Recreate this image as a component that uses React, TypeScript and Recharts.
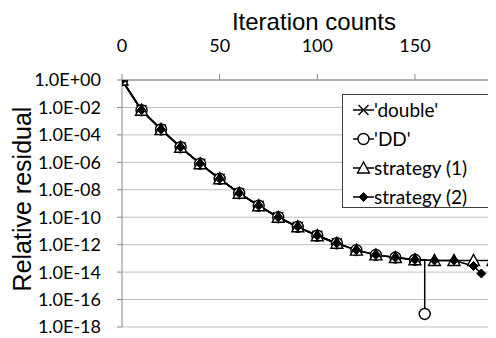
import React from 'react';
import { LineChart, Line, XAxis, YAxis, CartesianGrid, Legend } from 'recharts';

// ---- data ----
const doubleIters = [0, 10, 20, 30, 40, 50, 60, 70, 80, 90, 100, 110];
const doubleValues = [1, 6.3e-3, 2.5e-4, 1.26e-5, 7.9e-7, 6.3e-8, 5.6e-9, 6.9e-10, 1.0e-10, 2.0e-11, 4.5e-12, 1.26e-12];

const ddIters = [0, 10, 20, 30, 40, 50, 60, 70, 80, 90, 100, 110, 120, 130, 140, 150, 155, 155];
const ddValues = [1, 6.3e-3, 2.5e-4, 1.26e-5, 7.9e-7, 6.3e-8, 5.6e-9, 6.9e-10, 1.0e-10, 2.0e-11, 4.5e-12, 1.26e-12, 4.0e-13, 1.8e-13, 1.15e-13, 7.9e-14, 7.9e-14, 8.9e-18];

const s1Iters = [0, 10, 20, 30, 40, 50, 60, 70, 80, 90, 100, 110, 120, 130, 140, 150, 160, 170, 180, 190, 200];
const s1Values = [1, 6.3e-3, 2.5e-4, 1.26e-5, 7.9e-7, 6.3e-8, 5.6e-9, 6.9e-10, 1.0e-10, 2.0e-11, 4.5e-12, 1.26e-12, 4.0e-13, 1.8e-13, 1.15e-13, 7.9e-14, 7.1e-14, 7.1e-14, 7.1e-14, 7.1e-14, 7.1e-14];

const s2Iters = [0, 10, 20, 30, 40, 50, 60, 70, 80, 90, 100, 110, 120, 130, 140, 150, 160, 170, 180, 184];
const s2Values = [1, 6.3e-3, 2.5e-4, 1.26e-5, 7.9e-7, 6.3e-8, 5.6e-9, 6.9e-10, 1.0e-10, 2.0e-11, 4.5e-12, 1.26e-12, 4.0e-13, 1.8e-13, 1.15e-13, 7.9e-14, 7.1e-14, 7.1e-14, 2.8e-14, 7.9e-15];

const seriesNames = ["'double'", "'DD'", 'strategy (1)', 'strategy (2)'];
const xTicks = [0, 50, 100, 150];
const yTicks = [1, 1e-2, 1e-4, 1e-6, 1e-8, 1e-10, 1e-12, 1e-14, 1e-16, 1e-18];
const xTitle = 'Iteration counts';
const yTitle = 'Relative residual';

const toRows = (xs: number[], ys: number[]) => xs.map((x, i) => ({ x, y: ys[i] }));
const doubleData = toRows(doubleIters, doubleValues);
const ddData = toRows(ddIters, ddValues);
const s1Data = toRows(s1Iters, s1Values);
const s2Data = toRows(s2Iters, s2Values);
const ddCornerIndex = ddIters.length - 2;

const fmtY = (v: number) => {
  const e = Math.round(Math.log10(v));
  const sign = e < 0 ? '-' : '+';
  return `1.0E${sign}${String(Math.abs(e)).padStart(2, '0')}`;
};

// ---- markers ----
const Cross = ({ cx, cy }: { cx: number; cy: number }) => (
  <path d={`M${cx - 5},${cy - 5}L${cx + 5},${cy + 5}M${cx - 5},${cy + 5}L${cx + 5},${cy - 5}`} stroke="#000" strokeWidth={1.4} fill="none" />
);
const Circ = ({ cx, cy }: { cx: number; cy: number }) => (
  <circle cx={cx} cy={cy} r={5.5} fill="#fff" stroke="#000" strokeWidth={1.4} />
);
const Tri = ({ cx, cy }: { cx: number; cy: number }) => (
  <polygon points={`${cx},${cy - 6} ${cx - 6},${cy + 5} ${cx + 6},${cy + 5}`} fill="#fff" stroke="#000" strokeWidth={1.4} />
);
const Dia = ({ cx, cy }: { cx: number; cy: number }) => (
  <polygon points={`${cx},${cy - 4.5} ${cx + 4.5},${cy} ${cx},${cy + 4.5} ${cx - 4.5},${cy}`} fill="#000" stroke="#000" strokeWidth={1} />
);
const markerByName: Record<string, any> = {
  [seriesNames[0]]: Cross,
  [seriesNames[1]]: Circ,
  [seriesNames[2]]: Tri,
  [seriesNames[3]]: Dia,
};

const dotFn = (M: any, skip?: number) => (p: any) => {
  if (p.cx == null || p.cy == null || p.index === skip) return <g key={`d${p.index}`} />;
  return <g key={`d${p.index}`}><M cx={p.cx} cy={p.cy} /></g>;
};

const renderLegend = (props: any) => {
  const payload = [...(props.payload || [])].sort(
    (a: any, b: any) => seriesNames.indexOf(a.value) - seriesNames.indexOf(b.value)
  );
  return (
    <div style={{ width: 147, height: 114, border: '1px solid #404040', background: '#fff', boxSizing: 'border-box', paddingTop: 0 }}>
      {payload.map((item: any) => {
        const M = markerByName[item.value];
        return (
          <div key={item.value} style={{ display: 'flex', alignItems: 'center', height: 29, paddingLeft: 10 }}>
            <svg width={21} height={16} style={{ overflow: 'visible' }}>
              <line x1={0} y1={8} x2={21} y2={8} stroke="#000" strokeWidth={1.5} />
              {M ? <M cx={10.5} cy={8} /> : null}
            </svg>
            <span style={{ fontFamily: 'Lato', fontSize: 19, color: '#000', lineHeight: '29px' }}>{item.value}</span>
          </div>
        );
      })}
    </div>
  );
};

export default function App() {
  return (
    <div style={{ position: 'relative', width: 488, height: 330 }}>
      <LineChart width={488} height={330} margin={{ top: 0, right: 0, bottom: 11, left: 0 }}>
        <CartesianGrid vertical={false} stroke="#bfbfbf" strokeWidth={1} />
        <XAxis
          type="number"
          dataKey="x"
          orientation="top"
          height={72}
          domain={[0, 191.5]}
          ticks={xTicks}
          interval={0}
          allowDataOverflow
          stroke="#868686"
          tickSize={6}
          tickMargin={22}
          tick={{ fontFamily: 'Lato', fontSize: 18, fill: '#000' }}
          label={{
            content: () => (
              <text x={306} y={22} textAnchor="middle" fontFamily="'Liberation Sans', Arial" fontSize={24} fill="#000">
                {xTitle}
              </text>
            ),
          }}
        />
        <YAxis
          type="number"
          scale="log"
          dataKey="y"
          domain={[1e-18, 1]}
          ticks={yTicks}
          interval={0}
          allowDataOverflow
          width={114}
          stroke="#868686"
          tickSize={5}
          tickMargin={16}
          tickFormatter={fmtY}
          tick={{ fontFamily: 'Lato', fontSize: 18, fill: '#000' }}
          label={{
            content: () => (
              <text
                x={23}
                y={191}
                textAnchor="middle"
                fontFamily="'Liberation Sans', Arial"
                fontSize={25}
                fill="#000"
                transform={`rotate(-90 23 191)`}
              >
                {yTitle}
              </text>
            ),
          }}
        />
        <Line data={doubleData} dataKey="y" name={seriesNames[0]} stroke="#000" strokeWidth={1.8} dot={dotFn(Cross)} activeDot={false} isAnimationActive={false} />
        <Line data={ddData} dataKey="y" name={seriesNames[1]} stroke="#000" strokeWidth={1.5} dot={dotFn(Circ, ddCornerIndex)} activeDot={false} isAnimationActive={false} />
        <Line data={s1Data} dataKey="y" name={seriesNames[2]} stroke="#000" strokeWidth={1.5} dot={dotFn(Tri)} activeDot={false} isAnimationActive={false} />
        <Line data={s2Data} dataKey="y" name={seriesNames[3]} stroke="#000" strokeWidth={1.5} dot={dotFn(Dia)} activeDot={false} isAnimationActive={false} />
        <Legend
          layout="vertical"
          align="center"
          verticalAlign="middle"
          content={renderLegend}
          wrapperStyle={{ position: 'absolute', left: 334, top: 86, width: 147, height: 114 }}
        />
      </LineChart>
    </div>
  );
}
